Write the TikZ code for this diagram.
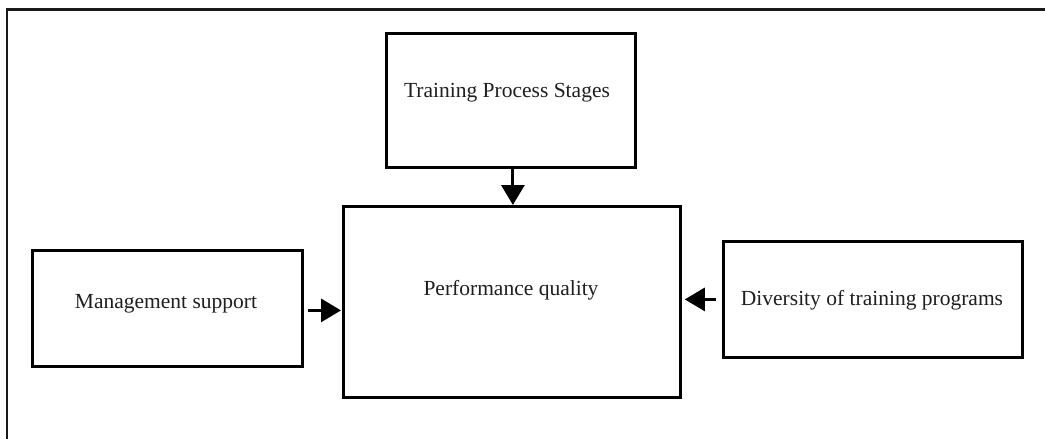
\documentclass[tikz,border=0pt]{standalone}
\usepackage{fontspec}
\setmainfont{Liberation Serif}
\usetikzlibrary{arrows.meta}
\tikzset{
  box/.style={draw, line width=2.8pt, rectangle, inner sep=0pt, anchor=north west},
  lbl/.style={inner sep=0pt, anchor=base, font=\fontsize{21.5}{25}\selectfont, text=black!88},
  arr/.style={line width=3pt, -{Triangle[width=23pt,length=20pt]}},
  frame/.style={line width=2.4pt, draw=black!90}
}
\begin{document}
\begin{tikzpicture}[x=1pt,y=-1pt]
  \useasboundingbox (0,0) rectangle (1045,439);
  % outer frame (open towards right and bottom)
  \draw[frame] (7,440) -- (7,9.5) -- (1046,9.5);

  % boxes
  \node[box, minimum width=249pt, minimum height=134pt] (stages) at (385,32) {};
  \node[box, minimum width=337pt, minimum height=191pt] (perf) at (342,205) {};
  \node[box, minimum width=270pt, minimum height=116pt] (mgmt) at (31,249) {};
  \node[box, minimum width=299pt, minimum height=116pt] (div) at (722,240) {};

  % labels
  \node[lbl] (tstages) at (507,97) {Training Process Stages};
  \node[lbl] (tperf) at (511,295) {Performance quality};
  \node[lbl] (tmgmt) at (166,308) {Management support};
  \node[lbl] (tdiv) at (872,305) {Diversity of training programs};

  % connectors
  \draw[arr] ([xshift=2pt]stages.south) -- ([xshift=2pt]stages.south |- perf.north);
  \draw[arr] ([xshift=4pt,yshift=-2pt]mgmt.east) -- ([xshift=-1pt,yshift=-2pt]mgmt.east -| perf.west);
  \draw[arr] ([xshift=-6pt]div.west) -- ([xshift=3pt]div.west -| perf.east);
\end{tikzpicture}
\end{document}
